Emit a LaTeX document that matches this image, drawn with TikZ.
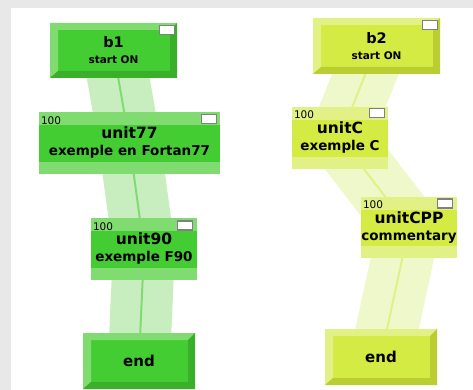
\documentclass[tikz,border=0pt]{standalone}
\usepackage{fontspec}
\setmainfont{DejaVu Sans}
\usetikzlibrary{backgrounds}
\definecolor{gface}{HTML}{44CC33}
\definecolor{glight}{HTML}{80DC70}
\definecolor{gdark}{HTML}{3AB02A}
\definecolor{gband}{HTML}{C8EEC0}
\definecolor{yface}{HTML}{D4EB44}
\definecolor{ylight}{HTML}{E2F185}
\definecolor{ydark}{HTML}{BACD32}
\definecolor{yband}{HTML}{EFF8CA}
\definecolor{cframe}{HTML}{E8E8E8}

\begin{document}
\begin{tikzpicture}[x=1pt,y=-1pt,font=\bfseries,
  bevelbox/.style n args={3}{fill=#1,inner sep=0pt,align=center,
    path picture={
      \fill[#2] (path picture bounding box.south west) -- (path picture bounding box.north west)
        -- (path picture bounding box.north east) -- ([shift={(-7,7)}]path picture bounding box.north east)
        -- ([shift={(8,7)}]path picture bounding box.north west) -- ([shift={(8,-7)}]path picture bounding box.south west) -- cycle;
      \fill[#3] (path picture bounding box.north east) -- (path picture bounding box.south east)
        -- (path picture bounding box.south west) -- ([shift={(8,-7)}]path picture bounding box.south west)
        -- ([shift={(-7,-7)}]path picture bounding box.south east) -- ([shift={(-7,7)}]path picture bounding box.north east) -- cycle;
    }},
  unitbox/.style 2 args={fill=#2,inner sep=0pt,align=center,
    font=\bfseries\fontsize{15.5}{17}\selectfont,
    path picture={
      \fill[#1] ([shift={(0,13)}]path picture bounding box.north west) rectangle ([shift={(0,-12)}]path picture bounding box.south east);
    }},
  startbox/.style={minimum width=127,minimum height=55,font=\bfseries\fontsize{14.5}{16}\selectfont},
  endbox/.style={minimum width=112,minimum height=56,font=\bfseries\fontsize{15}{17}\selectfont},
  flag/.style={draw=gray,fill=white,line width=1.2pt,minimum width=15,minimum height=9,inner sep=0pt,anchor=north east},
  pct/.style={font=\mdseries\fontsize{10.5}{12}\selectfont,inner sep=0pt,anchor=north west},
  link/.style 2 args={draw=#1,double=#2,line width=30pt,double distance=2pt}]
\useasboundingbox (0,0) rectangle (473,390);
% left chain
\node[bevelbox={gface}{glight}{gdark},startbox] (b1) at (113.5,50.5) {b1\\\fontsize{10.5}{16}\selectfont start ON};
\node[unitbox={gface}{glight},minimum width=181,minimum height=62] (unit77) at (129.5,143)
  {unit77\\\fontsize{13.5}{17}\selectfont exemple en Fortan77};
\node[unitbox={gface}{glight},minimum width=106,minimum height=62] (unit90) at (144,249)
  {unit90\\\fontsize{13.5}{17}\selectfont exemple F90};
\node[bevelbox={gface}{glight}{gdark},endbox] (endA) at (139,361) {end};
% right chain
\node[bevelbox={yface}{ylight}{ydark},startbox,minimum height=56] (b2) at (376.5,46) {b2\\\fontsize{10.5}{16}\selectfont start ON};
\node[unitbox={yface}{ylight},minimum width=96,minimum height=62] (unitC) at (340,138)
  {unitC\\\fontsize{13.5}{17}\selectfont exemple C};
\node[unitbox={yface}{ylight},minimum width=96,minimum height=61] (unitCPP) at (409,227.5)
  {unitCPP\\\fontsize{13.5}{17}\selectfont commentary};
\node[bevelbox={yface}{ylight}{ydark},endbox] (endB) at (381,357) {end};
% flags and counters
\node[flag] (b1-flag) at ([shift={(-2,2)}]b1.north east) {};
\node[flag] (b2-flag) at ([shift={(-2,2.5)}]b2.north east) {};
\node[flag] (unit77-flag) at ([shift={(-3.5,2.5)}]unit77.north east) {};
\node[flag] (unit90-flag) at ([shift={(-4.5,2.5)}]unit90.north east) {};
\node[flag] (unitC-flag) at ([shift={(-3.5,1.5)}]unitC.north east) {};
\node[flag] (unitCPP-flag) at ([shift={(-4.5,1.5)}]unitCPP.north east) {};
\node[pct] (unit77-pct) at ([shift={(2,4.5)}]unit77.north west) {100};
\node[pct] (unit90-pct) at ([shift={(2,4.5)}]unit90.north west) {100};
\node[pct] (unitC-pct) at ([shift={(2,3.5)}]unitC.north west) {100};
\node[pct] (unitCPP-pct) at ([shift={(2,3.5)}]unitCPP.north west) {100};
% frame and links
\begin{pgfonlayer}{background}
\fill[cframe] (0,0) rectangle (473,390);
\fill[white] (11,8) rectangle (473,390);
\draw[link={gband}{glight}] (b1.center) -- (unit77.center);
\draw[link={gband}{glight}] (unit77.center) -- (unit90.center);
\draw[link={gband}{glight}] (unit90.center) -- (endA.center);
\draw[link={yband}{ylight}] (b2.center) -- (unitC.center);
\draw[link={yband}{ylight}] (unitC.center) -- (unitCPP.center);
\draw[link={yband}{ylight}] (unitCPP.center) -- (endB.center);
\end{pgfonlayer}
\end{tikzpicture}
\end{document}
